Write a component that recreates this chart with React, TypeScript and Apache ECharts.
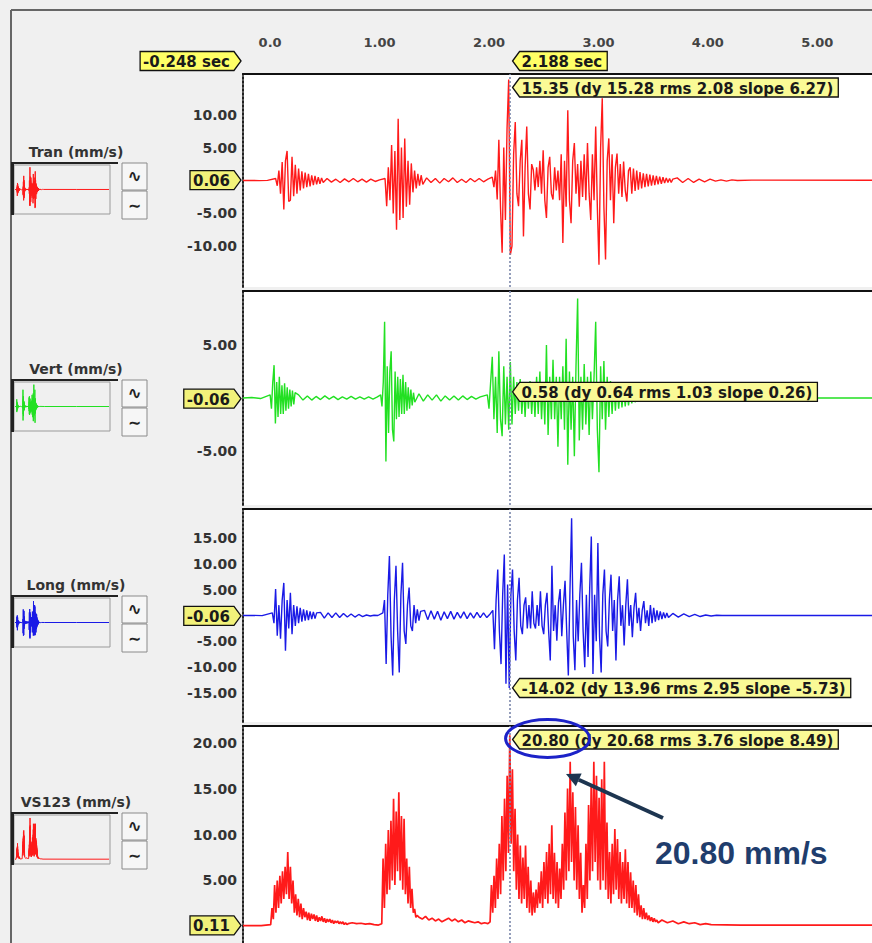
import React, { useEffect, useRef } from 'react';
import * as echarts from 'echarts';

type Segment = { start: number; step: number; values: number[] };

// ---------------- Data ----------------
const TIME_MIN = -0.248;
const TIME_MAX = 5.5;
const THUMB_TIME_MAX = 15;
const CURSOR_TIME = 2.188;
const TIME_TICKS = [0, 1, 2, 3, 4, 5];

const channelNames = ['Tran (mm/s)', 'Vert (mm/s)', 'Long (mm/s)', 'VS123 (mm/s)'];
const yTicks = [[-10, -5, 5, 10], [-5, 5], [-15, -10, -5, 5, 10, 15], [5, 10, 15, 20]];
const yRanges = [[-16.2, 16.2], [-10.1, 10.1], [-20.6, 20.6], [-1.8, 21.8]];
const baselineValues = [0.06, -0.06, -0.06, 0.11];
const cursorValues = [15.35, 0.58, -14.02, 20.8];
const cursorDetails = [
  'dy 15.28 rms 2.08 slope 6.27',
  'dy 0.64 rms 1.03 slope 0.26',
  'dy 13.96 rms 2.95 slope -5.73',
  'dy 20.68 rms 3.76 slope 8.49',
];
const peakNote = '20.80 mm/s';

const tranSegments: Segment[] = [
  { start: -0.248, step: 0.0745, values: [0, 0.02, -0.02, 0.02] },
  { start: 0.05, step: 0.015, values: [0.3, -0.8, 1.5, -2.0, 2.8, -4.4, 3.0, 4.5, -3.2, -3.0, 3.6, -2.4, 2.4, -2.0, 1.8, -1.5, 1.4, -1.2, 1.2, -1.0, 1.0, -0.9, 0.8, -0.7, 0.7, -0.6, 0.5, -0.5, 0.4, -0.3] },
  { start: 0.52, step: 0.04, values: [0.3, -0.25, 0.2, -0.3, 0.25, -0.2, 0.3, -0.2, 0.2, -0.25, 0.2, -0.15, 0.1] },
  { start: 1.05, step: 0.015, values: [0.3, -3.9, 2.0, -3.0, 5.4, -5.0, 4.5, -7.5, 9.4, -6.0, 5.0, -5.7, 6.4, -4.0, 3.0, -3.7, 2.6, -1.8, 1.5, -1.2, 1.0, -0.8, 0.8, -0.6] },
  { start: 1.43, step: 0.04, values: [0.4, -0.3, 0.3, -0.4, 0.3, -0.2, 0.4, -0.3, 0.2, -0.3, 0.3, -0.2, 0.3, -0.2, 0.2] },
  { start: 2.03, step: 0.015, values: [
    0.5, -1.0, 1.5, -2.9, 6.2, -4.0, -11.0, 5.0, -6.0, 8.0,
    15.35, -11.3, -10.0, 4.0, 8.9, -2.0, -3.9, 3.0, 6.2, -8.5,
    2.0, 8.2, -2.0, -4.4, 2.5, 1.6, -1.5, 2.0, -1.0, 3.0,
    -2.0, 4.6, -3.0, -5.7, 2.0, 3.6, -2.0, -2.9, 2.0, -1.5,
    1.5, -3.0, 4.0, -9.5, 3.0, -4.0, 10.7, -3.0, -6.5, 3.0,
    5.7, -2.0, 2.5, -4.0, 3.0, -2.5, 4.0, -3.0, 5.7, -2.0,
    -6.0, 4.0, -3.0, 8.2, -4.0, -12.8, 5.0, 12.5, -4.0, -12.0,
    3.0, 6.4, -3.0, 4.0, -6.5, 2.0, 4.1, -2.0, 2.5, -2.5,
    2.9, -1.5, -3.2, 1.5, 2.0, -2.0, 1.8, -1.6, 1.5, -1.4,
    1.3, -1.2, 1.1, -1.0, 1.0, -0.9, 0.9, -0.8, 0.8, -0.7,
    0.7, -0.6, 0.6, -0.5, 0.5, -0.4, 0.4, -0.3, 0.3, -0.3, 0.2,
  ] },
  { start: 3.72, step: 0.05, values: [0.4, -0.3, 0.3, -0.3, 0.2, -0.2, 0.2, -0.1, 0.1, -0.1, 0.1, 0] },
  { start: 4.4, step: 5.3, values: [0.05, 0.03, 0.02] },
];

const vertSegments: Segment[] = [
  { start: -0.248, step: 0.08, values: [0, 0.05, -0.05] },
  { start: 0.0, step: 0.012, values: [0.3, -1.0, 1.5, 3.1, -2.4, 1.5, -1.8, 2.0, -1.5, 1.2, -1.5, 1.4, -1.2, 1.0, -1.0, 0.8, -0.8, 0.7, -0.6, 0.5] },
  { start: 0.26, step: 0.04, values: [0.3, -0.2, 0.2, -0.2, 0.15, -0.15, 0.2, -0.1, 0.15, -0.15, 0.1, -0.1, 0.15, -0.1, 0.1, -0.1, 0.1, -0.1, 0.1] },
  { start: 1.01, step: 0.012, values: [0.3, -0.8, 1.5, 7.2, -6.0, 3.0, -3.3, 2.5, 4.4, -3.0, -4.1, 2.5, -2.0, 2.0, -1.8, 1.8, -1.5, 2.2, -1.5, 1.5, -1.2, 1.0, -1.0, 0.8, -0.7, 0.5, -0.4] },
  { start: 1.36, step: 0.04, values: [0.4, -0.3, 0.3, -0.2, 0.3, -0.3, 0.2, -0.2, 0.2, -0.2, 0.2, -0.15, 0.15, -0.1, 0.1] },
  { start: 1.985, step: 0.015, values: [
    0.3, -1.0, 1.5, 3.9, -2.0, 2.0, -3.3, 4.4, -2.0, -3.6,
    3.0, -2.5, 2.0, -3.0, 3.4, -2.5, 2.0, -1.5, 1.5, -1.2,
    1.8, -1.5, 1.2, -1.8, 1.5, -1.0, 1.6, -1.5, 1.2, -1.8,
    2.0, -1.5, 2.5, -2.0, 1.5, -2.5, 5.0, -3.5, 2.0, -2.0,
    3.6, -2.0, 2.0, -4.6, 2.0, -2.0, 3.0, -3.0, 5.6, -6.3,
    2.5, -3.0, 2.0, -5.5, 3.0, 9.4, -4.0, 2.0, -3.0, 3.2,
    -2.5, 2.0, -3.5, 2.5, -2.0, 2.0, 7.2, -3.0, -7.0, 3.0,
    -2.0, 3.5, -3.0, 2.0, -1.8, 1.6, -1.5, 1.4, -1.2, 1.2,
    -1.0, 1.0, -0.9, 0.9, -0.8, 0.8, -0.7, 0.6, -0.5, 0.5, -0.4,
  ] },
  { start: 3.37, step: 0.05, values: [0.3, -0.3, 0.25, -0.2, 0.2, -0.15, 0.1, -0.1, 0.05, 0] },
  { start: 4.5, step: 5.25, values: [0, 0, 0] },
];

const longSegments: Segment[] = [
  { start: -0.248, step: 0.0875, values: [0, 0.03, -0.03] },
  { start: 0.02, step: 0.015, values: [0.5, -1.5, 5.1, -3.9, 2.0, -4.5, 3.0, 6.3, -6.8, 3.0, -2.5, 4.4, -3.6, 2.0, -2.0, 1.8, -1.5, 1.5, -1.2, 1.2, -1.0, 1.0, -0.9, 0.8, -0.7, 0.7, -0.6, 0.5] },
  { start: 0.46, step: 0.035, values: [0.6, -0.5, 0.5, -0.4, 0.5, -0.4, 0.4, -0.3, 0.3, -0.3, 0.2, -0.2, 0.1, -0.1, 0.05, 0] },
  { start: 1.03, step: 0.015, values: [0.5, 3.0, -9.4, 4.0, 11.5, -4.0, -11.6, 3.0, 9.6, -3.0, -11.0, 4.0, 10.2, -3.0, -5.5, 2.0, 5.4, -2.0, -3.0, 2.0, -1.5, 1.2, -1.0, 0.8] },
  { start: 1.41, step: 0.03, values: [1.0, -0.8, 0.9, -0.7, 0.8, -0.9, 0.7, -0.6, 0.8, -0.7, 0.6, -0.5, 0.7, -0.6, 0.5, -0.5, 0.6, -0.4, 0.5, -0.4, 0.3] },
  { start: 2.035, step: 0.015, values: [
    1.0, -6.5, 3.0, 8.9, -3.0, -9.4, 4.0, 11.8, -13.2, 6.0,
    -14.02, 4.0, 8.9, -3.0, -8.7, 3.0, 7.3, -2.0, -3.6, 2.0,
    3.5, -2.5, 2.0, -2.5, 4.7, -1.5, -2.5, 2.0, -2.0, 4.7,
    -2.0, -3.6, 2.0, 4.4, -3.0, -8.7, 9.6, -3.0, 2.0, -4.9,
    2.5, 5.1, -4.0, 2.0, 6.7, -3.0, -11.6, 5.0, 18.8, -4.0,
    -10.6, 3.0, -5.0, 4.0, 10.2, -3.0, -10.0, 4.0, -8.0, 5.0,
    15.3, -11.3, 4.0, -5.0, 14.0, -4.0, -11.0, 4.0, 8.9, -3.0,
    -6.0, 3.0, 7.9, -3.0, 3.0, -8.7, 3.0, 7.6, -2.0, 2.0,
    -5.8, 2.0, 7.0, -2.0, 2.0, -4.2, 1.5, 4.4, -1.5, 1.5,
    -3.0, 1.0, 2.8, -1.5, 1.0, -2.0, 2.0, -1.5, 1.5, -1.2,
    1.0, -0.9, 0.8, -0.7, 0.6, -0.5, 0.5, -0.4,
  ] },
  { start: 3.68, step: 0.05, values: [0.4, -0.3, 0.3, -0.2, 0.2, -0.2, 0.1, -0.1, 0.05, 0] },
  { start: 4.5, step: 5.25, values: [0, 0, 0] },
];

const vs123Segments: Segment[] = [
  { start: -0.248, step: 0.083, values: [0.1, 0.1, 0.1] },
  { start: 0.005, step: 0.012, values: [
    0.2, 2.0, 0.8, 4.5, 1.5, 5.0, 2.0, 5.5, 2.5, 6.0,
    3.0, 6.5, 3.5, 8.1, 3.0, 6.5, 2.5, 5.0, 1.5, 3.5,
    1.2, 3.0, 1.0, 2.5, 0.8, 2.0, 1.0, 1.6, 0.7, 1.5,
    0.6, 1.4, 0.8, 1.3, 0.6, 1.2, 0.5, 1.0, 0.6, 1.1,
    0.5, 0.9, 0.4, 0.8, 0.5, 0.8, 0.4, 0.7, 0.3, 0.6,
    0.4, 0.6, 0.3, 0.5, 0.3, 0.5, 0.2, 0.4, 0.2, 0.3,
  ] },
  { start: 0.75, step: 0.04, values: [0.4, 0.3, 0.35, 0.25, 0.3, 0.2, 0.15] },
  { start: 1.02, step: 0.012, values: [0.3, 7.4, 2.0, 9.0, 3.5, 10.5, 4.0, 11.5, 5.0, 13.9, 4.5, 12.5, 6.0, 14.6, 5.0, 12.0, 4.0, 11.7, 3.5, 7.4, 2.5, 6.5, 2.0, 4.1, 1.5, 1.9, 1.0, 1.2] },
  { start: 1.36, step: 0.03, values: [1.0, 0.8, 1.1, 0.7, 0.9, 0.6, 0.8, 0.5, 0.7, 0.9, 0.6, 0.8, 0.5, 0.7, 0.4, 0.6, 0.5, 0.4, 0.5, 0.3, 0.4, 0.3] },
  { start: 2.01, step: 0.012, values: [
    0.5, 4.5, 1.5, 5.5, 2.0, 7.4, 3.0, 9.0, 3.5, 12.0,
    5.0, 13.9, 6.0, 16.4, 8.0, 20.8, 9.0, 17.1, 6.0, 12.8,
    4.0, 10.0, 3.0, 8.8, 2.5, 7.5, 3.0, 8.8, 2.0, 6.5,
    1.5, 5.0, 1.2, 3.7, 1.5, 4.0, 2.0, 4.8, 2.5, 6.0,
    2.0, 7.0, 3.0, 8.1, 2.5, 9.0, 3.5, 11.0, 3.0, 8.0,
    2.5, 7.0, 2.0, 6.3, 3.0, 9.0, 4.0, 12.4, 5.0, 15.0,
    6.0, 17.9, 7.0, 14.6, 5.0, 13.0, 4.0, 11.0, 3.0, 8.0,
    1.5, 4.5, 2.0, 9.0, 3.0, 13.2, 5.0, 15.5, 6.0, 17.9,
    7.0, 16.4, 5.0, 14.0, 4.0, 16.0, 5.0, 17.9, 4.0, 11.3,
    3.0, 8.1, 2.5, 9.0, 3.5, 10.6, 4.0, 9.5, 3.0, 8.1,
    2.5, 7.0, 3.0, 8.4, 2.5, 7.0, 2.0, 5.9, 2.0, 5.0,
    1.5, 4.5, 1.2, 3.5, 1.0, 2.3, 0.8, 2.0, 0.8, 1.5,
    0.7, 1.2, 0.6, 1.0, 0.5, 0.9, 0.5, 0.7, 0.4,
  ] },
  { start: 3.58, step: 0.05, values: [0.7, 0.4, 0.6, 0.3, 0.5, 0.3, 0.4, 0.2, 0.3, 0.2] },
  { start: 4.3, step: 5.35, values: [0.15, 0.12, 0.12] },
];

const channelSegments = [tranSegments, vertSegments, longSegments, vs123Segments];

// ---------------- Layout & style ----------------
const PANEL_LEFT = 243;
const PANEL_WIDTH = 638;
const PANEL_TOP = [74, 291, 509, 726];
const PANEL_H = [213, 214, 213, 217];
const THUMB_TOP = [165, 382, 598, 815];
const COLORS = ['#ff1a1a', '#22e022', '#1a1ae6', '#ff1a1a'];
const LINE_WIDTHS = [1.4, 1.4, 1.4, 1.7];
const LABEL_FONT = '"DejaVu Sans", Verdana, sans-serif';
const CALL_FONT = 'bold 15px "DejaVu Sans", Verdana, sans-serif';

function expand(segs: Segment[]): number[][] {
  const out: number[][] = [];
  for (const s of segs) {
    s.values.forEach((v, i) => out.push([Math.round((s.start + i * s.step) * 10000) / 10000, v]));
  }
  return out;
}

let measureCtx: CanvasRenderingContext2D | null = null;
function textWidth(t: string, font: string): number {
  if (!measureCtx) measureCtx = document.createElement('canvas').getContext('2d');
  if (!measureCtx) return t.length * 8;
  measureCtx.font = font;
  return measureCtx.measureText(t).width;
}

function calloutLeft(tipX: number, yc: number, text: string, fill: string): any[] {
  const w = textWidth(text, CALL_FONT);
  const right = tipX + 7 + w + 7;
  return [
    { type: 'polygon', z: 60, shape: { points: [[tipX, yc], [tipX + 7, yc - 9.5], [right, yc - 9.5], [right, yc + 9.5], [tipX + 7, yc + 9.5]] }, style: { fill, stroke: '#111', lineWidth: 1.3 } },
    { type: 'text', z: 61, style: { text, x: tipX + 9, y: yc + 1, font: CALL_FONT, fill: '#1a1a1a', align: 'left', verticalAlign: 'middle', textAlign: 'left', textVerticalAlign: 'middle' } },
  ];
}

function calloutRight(tipX: number, yc: number, text: string, fill: string): any[] {
  const w = textWidth(text, CALL_FONT);
  const left = tipX - 7 - w - 7;
  return [
    { type: 'polygon', z: 60, shape: { points: [[tipX, yc], [tipX - 7, yc - 9.5], [left, yc - 9.5], [left, yc + 9.5], [tipX - 7, yc + 9.5]] }, style: { fill, stroke: '#111', lineWidth: 1.3 } },
    { type: 'text', z: 61, style: { text, x: left + 3, y: yc + 1, font: CALL_FONT, fill: '#1a1a1a', align: 'left', verticalAlign: 'middle', textAlign: 'left', textVerticalAlign: 'middle' } },
  ];
}

export default function App() {
  const ref = useRef<HTMLDivElement>(null);

  useEffect(() => {
    document.body.style.margin = '0';
    if (!ref.current) return;
    const chart = echarts.init(ref.current, null, { renderer: 'svg' });
    const datasets = channelSegments.map(expand);

    const grids: any[] = [
      ...PANEL_TOP.map((top, i) => ({ left: PANEL_LEFT, top, width: PANEL_WIDTH, height: PANEL_H[i], show: true, backgroundColor: '#ffffff', borderWidth: 0 })),
      ...THUMB_TOP.map((top) => ({ left: 15, top: top + 1, width: 94, height: 47, show: false })),
    ];

    const xAxes: any[] = [
      ...PANEL_TOP.map((_, i) => ({
        gridIndex: i, type: 'value', min: TIME_MIN, max: TIME_MAX, position: 'top',
        axisLine: { show: true, onZero: false, lineStyle: { color: '#111', width: 2 } },
        axisTick: { show: false }, splitLine: { show: false },
        axisLabel: i === 0
          ? { show: true, customValues: TIME_TICKS, formatter: (v: number) => (v === 0 ? '0.0' : v.toFixed(2)), margin: 25, fontSize: 13, fontWeight: 'bold', color: '#444', fontFamily: LABEL_FONT }
          : { show: false },
      })),
      ...THUMB_TOP.map((_, i) => ({ gridIndex: 4 + i, type: 'value', min: TIME_MIN, max: THUMB_TIME_MAX, show: false })),
    ];

    const yAxes: any[] = [
      ...PANEL_TOP.map((_, i) => ({
        gridIndex: i, type: 'value', min: yRanges[i][0], max: yRanges[i][1],
        axisLine: { show: true, onZero: false, lineStyle: { color: '#222', width: 2, type: [2, 2] } },
        axisTick: { show: false }, splitLine: { show: false },
        axisLabel: { show: true, customValues: yTicks[i], formatter: (v: number) => v.toFixed(2), margin: 6, fontSize: 14, fontWeight: 'bold', color: '#333', fontFamily: LABEL_FONT },
      })),
      ...THUMB_TOP.map((_, i) => ({ gridIndex: 4 + i, type: 'value', min: yRanges[i][0], max: yRanges[i][1], show: false })),
    ];

    const series: any[] = [
      ...datasets.map((data, i) => ({
        type: 'line', xAxisIndex: i, yAxisIndex: i, data, showSymbol: false, symbol: 'none',
        lineStyle: { color: COLORS[i], width: LINE_WIDTHS[i] }, itemStyle: { color: COLORS[i] },
        emphasis: { disabled: true }, silent: true,
        markLine: {
          silent: true, symbol: ['none', 'none'], label: { show: false },
          lineStyle: { color: '#7a86aa', width: 1.6, type: [2, 2] },
          data: [{ xAxis: CURSOR_TIME }],
        },
      })),
      ...datasets.map((data, i) => ({
        type: 'line', xAxisIndex: 4 + i, yAxisIndex: 4 + i, data, showSymbol: false, symbol: 'none',
        lineStyle: { color: COLORS[i], width: 1 }, emphasis: { disabled: true }, silent: true,
      })),
    ];

    chart.setOption({
      animation: false,
      backgroundColor: '#f0f0f0',
      grid: grids,
      xAxis: xAxes,
      yAxis: yAxes,
      series,
    });

    // ---- annotations (positioned through the chart's own scales) ----
    const els: any[] = [];
    els.push({ type: 'line', z: 5, shape: { x1: 11, y1: 10, x2: 872, y2: 10 }, style: { stroke: '#666', lineWidth: 2 } });
    els.push({ type: 'line', z: 5, shape: { x1: 11, y1: 10, x2: 11, y2: 943 }, style: { stroke: '#666', lineWidth: 2 } });

    const cursorPx = chart.convertToPixel({ gridIndex: 0 }, [CURSOR_TIME, 0])[0];
    const startPx = chart.convertToPixel({ gridIndex: 0 }, [TIME_MIN, 0])[0];

    els.push(...calloutRight(startPx - 2, 61, `${TIME_MIN.toFixed(3)} sec`, '#ffff66'));
    els.push(...calloutLeft(cursorPx + 3, 61, `${CURSOR_TIME.toFixed(3)} sec`, '#ffff66'));

    let vsTip = [0, 0];
    PANEL_TOP.forEach((top, i) => {
      const tb = THUMB_TOP[i];
      els.push({ type: 'text', z: 10, style: { text: channelNames[i], x: 76, y: tb - 13, font: `bold 14px ${LABEL_FONT}`, fill: '#333', align: 'center', verticalAlign: 'middle', textAlign: 'center', textVerticalAlign: 'middle' } });
      els.push({ type: 'rect', z: 10, shape: { x: 14, y: tb, width: 96, height: 49 }, style: { fill: 'none', stroke: '#9a9a9a', lineWidth: 1 } });
      els.push({ type: 'rect', z: 10, shape: { x: 12, y: tb - 3, width: 106, height: 2 }, style: { fill: '#222' } });
      els.push({ type: 'rect', z: 10, shape: { x: 11, y: tb - 3, width: 3, height: 53 }, style: { fill: '#222' } });
      els.push({ type: 'rect', z: 10, shape: { x: 122, y: tb - 2, width: 25, height: 27 }, style: { fill: '#f6f6f6', stroke: '#8a8a8a', lineWidth: 1 } });
      els.push({ type: 'rect', z: 10, shape: { x: 122, y: tb + 26, width: 25, height: 28 }, style: { fill: '#f6f6f6', stroke: '#8a8a8a', lineWidth: 1 } });
      els.push({ type: 'text', z: 11, style: { text: '∿', x: 134.5, y: tb + 11, font: `bold 17px ${LABEL_FONT}`, fill: '#222', align: 'center', verticalAlign: 'middle', textAlign: 'center', textVerticalAlign: 'middle' } });
      els.push({ type: 'text', z: 11, style: { text: '∼', x: 134.5, y: tb + 40, font: `bold 16px ${LABEL_FONT}`, fill: '#222', align: 'center', verticalAlign: 'middle', textAlign: 'center', textVerticalAlign: 'middle' } });

      const by = chart.convertToPixel({ gridIndex: i }, [TIME_MIN, baselineValues[i]])[1];
      els.push(...calloutRight(startPx - 2, by, baselineValues[i].toFixed(2), '#f2f27a'));

      const vy = chart.convertToPixel({ gridIndex: i }, [CURSOR_TIME, cursorValues[i]])[1];
      const yc = Math.max(vy, top + 13.5);
      const tipX = cursorPx + 3;
      els.push(...calloutLeft(tipX, yc, `${cursorValues[i].toFixed(2)} (${cursorDetails[i]})`, '#fafa96'));
      if (i === 3) vsTip = [tipX, yc];
    });

    els.push({ type: 'ellipse', z: 70, shape: { cx: vsTip[0] + 35, cy: vsTip[1] - 1, rx: 42, ry: 19 }, style: { fill: 'none', stroke: '#1c22c8', lineWidth: 3 } });
    const ax1 = 663, ay1 = 818, ax2 = 566, ay2 = 774;
    const len = Math.hypot(ax2 - ax1, ay2 - ay1);
    const ux = (ax2 - ax1) / len, uy = (ay2 - ay1) / len;
    const bx = ax2 - ux * 14, by2 = ay2 - uy * 14;
    els.push({ type: 'line', z: 70, shape: { x1: ax1, y1: ay1, x2: bx, y2: by2 }, style: { stroke: '#1d3550', lineWidth: 4 } });
    els.push({ type: 'polygon', z: 70, shape: { points: [[ax2, ay2], [bx - uy * 7, by2 + ux * 7], [bx + uy * 7, by2 - ux * 7]] }, style: { fill: '#1d3550' } });
    els.push({ type: 'text', z: 70, style: { text: peakNote, x: 655, y: 853, font: 'bold 32px "Liberation Sans", Arial, sans-serif', fill: '#1f3d6d', align: 'left', verticalAlign: 'middle', textAlign: 'left', textVerticalAlign: 'middle' } });

    chart.setOption({ graphic: { elements: els } });

    return () => chart.dispose();
  }, []);

  return <div ref={ref} style={{ position: 'absolute', left: 0, top: 0, width: 872, height: 943 }} />;
}
